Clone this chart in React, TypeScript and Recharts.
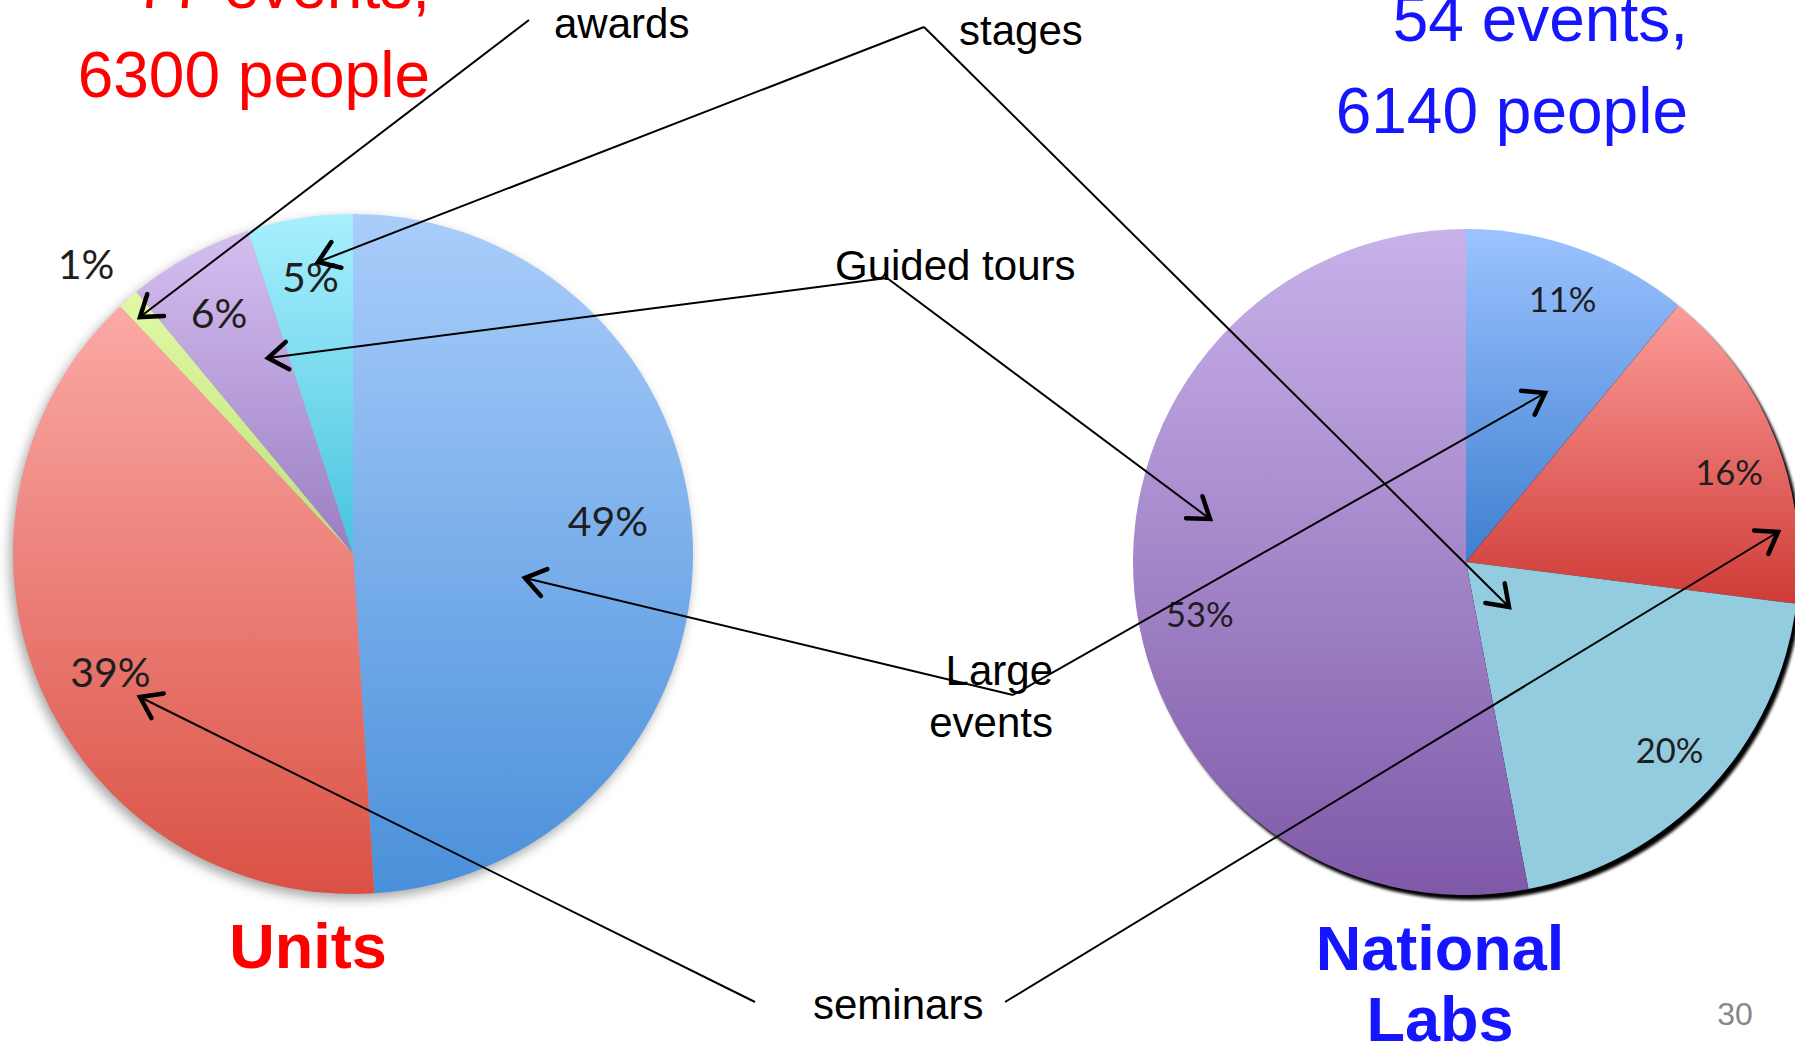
import React from "react";
import { PieChart, Pie, Cell } from "recharts";

// ---------- data ----------
const unitCategories = ["Large events", "seminars", "awards", "Guided tours", "stages"];
const unitValues = [49, 39, 1, 6, 5];
const labCategories = ["Large events", "seminars", "stages", "Guided tours"];
const labValues = [11, 16, 20, 53];

// ---------- styles ----------
const unitGradients = [
  ["#aacdfb", "#4a90da"],
  ["#fba9a6", "#da5144"],
  ["#e2f9a5", "#bfe07a"],
  ["#d5bff0", "#9a7dc2"],
  ["#a8f0fd", "#48c3df"],
];
const labGradients = [
  ["#9cc3ff", "#3e7fd0"],
  ["#fc9c99", "#cf3b37"],
  ["#93cbdf", "#93cbdf"],
  ["#c8b2ea", "#7f59a8"],
];
// small nudges of the percentage labels (px)
const unitLabelNudge: [number, number][] = [[-17, -25], [7, 9], [-6, 5], [-3, -3], [0, -9]];
const labLabelNudge: [number, number][] = [[3, -3], [6, 11], [2, -2], [9, 25]];

const unitData = unitCategories.map((name, i) => ({ name, value: unitValues[i] }));
const labData = labCategories.map((name, i) => ({ name, value: labValues[i] }));
const shadowData = [{ name: "shadow", value: 1 }];

const W = 1795;
const H = 1047;
const RAD = Math.PI / 180;

const makeLabel = (
  fontSize: number,
  insideFactor: number,
  outsideFactor: number,
  nudge: [number, number][]
) =>
  (props: any) => {
    const { cx, cy, midAngle, outerRadius, percent, index } = props;
    const f = percent < 0.02 ? outsideFactor : insideFactor;
    const r = outerRadius * f;
    const n = nudge[index] || [0, 0];
    const x = cx + r * Math.cos(-midAngle * RAD) + n[0];
    const y = cy + r * Math.sin(-midAngle * RAD) + n[1];
    return (
      <text
        x={x}
        y={y}
        textAnchor="middle"
        dominantBaseline="central"
        fontFamily="Lato, 'Open Sans', sans-serif"
        fontSize={fontSize}
        fill="#1e1e1e"
      >
        {`${Math.round(percent * 100)}%`}
      </text>
    );
  };

// ---------- annotations (callouts) ----------
type Pt = [number, number];
const arrows: { from: Pt; to: Pt }[] = [
  { from: [529, 20], to: [140, 317] },
  { from: [924, 27], to: [318, 262] },
  { from: [924, 27], to: [1509, 607] },
  { from: [887, 278], to: [268, 358] },
  { from: [887, 278], to: [1210, 519] },
  { from: [1013, 695], to: [525, 578] },
  { from: [1013, 695], to: [1545, 393] },
  { from: [755, 1002], to: [140, 697] },
  { from: [1005, 1002], to: [1778, 532] },
];

const Arrow = ({ from, to }: { from: Pt; to: Pt }) => {
  const [x1, y1] = from;
  const [x2, y2] = to;
  const ang = Math.atan2(y1 - y2, x1 - x2);
  const L = 24;
  const spread = 35 * RAD;
  const a1: Pt = [x2 + L * Math.cos(ang + spread), y2 + L * Math.sin(ang + spread)];
  const a2: Pt = [x2 + L * Math.cos(ang - spread), y2 + L * Math.sin(ang - spread)];
  return (
    <g>
      <line x1={x1} y1={y1} x2={x2} y2={y2} stroke="#000" strokeWidth={2} />
      <polyline
        points={`${a1[0]},${a1[1]} ${x2},${y2} ${a2[0]},${a2[1]}`}
        fill="none"
        stroke="#000"
        strokeWidth={4.5}
        strokeLinecap="round"
        strokeLinejoin="miter"
      />
    </g>
  );
};

const sans = "'Liberation Sans', Arial, sans-serif";

export default function App() {
  return (
    <div style={{ position: "absolute", left: 0, top: 0, width: W, height: H, background: "#fff", overflow: "hidden" }}>
      <svg width={0} height={0} style={{ position: "absolute" }}>
        <defs>
          {unitGradients.map((g, i) => (
            <linearGradient key={`u${i}`} id={`ug${i}`} x1="0" y1="0" x2="0" y2="1">
              <stop offset="0%" stopColor={g[0]} />
              <stop offset="100%" stopColor={g[1]} />
            </linearGradient>
          ))}
          {labGradients.map((g, i) => (
            <linearGradient key={`l${i}`} id={`lg${i}`} x1="0" y1="0" x2="0" y2="1">
              <stop offset="0%" stopColor={g[0]} />
              <stop offset="100%" stopColor={g[1]} />
            </linearGradient>
          ))}
          <filter id="blurSoft" x="-20%" y="-20%" width="140%" height="140%">
            <feGaussianBlur stdDeviation="6" />
          </filter>
          <filter id="blurHard" x="-20%" y="-20%" width="140%" height="140%">
            <feGaussianBlur stdDeviation="1.5" />
          </filter>
        </defs>
      </svg>
      <PieChart width={W} height={H} margin={{ top: 0, right: 0, bottom: 0, left: 0 }}>
        <Pie
          data={shadowData}
          dataKey="value"
          cx={350}
          cy={559}
          outerRadius={340}
          stroke="none"
          isAnimationActive={false}
        >
          <Cell fill="rgba(0,0,0,0.35)" filter="url(#blurSoft)" />
        </Pie>
        <Pie
          data={unitData}
          dataKey="value"
          nameKey="name"
          cx={353}
          cy={554}
          outerRadius={340}
          startAngle={90}
          endAngle={-270}
          stroke="none"
          isAnimationActive={false}
          labelLine={false}
          label={makeLabel(41, 0.8, 1.16, unitLabelNudge)}
        >
          {unitData.map((_, i) => (
            <Cell key={i} fill={`url(#ug${i})`} />
          ))}
        </Pie>
        <Pie
          data={shadowData}
          dataKey="value"
          cx={1470}
          cy={567}
          outerRadius={333}
          stroke="none"
          isAnimationActive={false}
        >
          <Cell fill="#000" filter="url(#blurHard)" />
        </Pie>
        <Pie
          data={labData}
          dataKey="value"
          nameKey="name"
          cx={1466}
          cy={562}
          outerRadius={333}
          startAngle={90}
          endAngle={-270}
          stroke="none"
          isAnimationActive={false}
          labelLine={false}
          label={makeLabel(34.5, 0.83, 1.1, labLabelNudge)}
        >
          {labData.map((_, i) => (
            <Cell key={i} fill={`url(#lg${i})`} />
          ))}
        </Pie>
      </PieChart>
      <svg width={W} height={H} style={{ position: "absolute", left: 0, top: 0, pointerEvents: "none" }}>
        <g fontFamily={sans}>
          <text x={430} y={8} textAnchor="end" fontSize={64} fill="#ff0000">77 events,</text>
          <text x={430} y={97} textAnchor="end" fontSize={64} fill="#ff0000">6300 people</text>
          <text x={1688} y={41} textAnchor="end" fontSize={64} fill="#1515ff">54 events,</text>
          <text x={1688} y={133} textAnchor="end" fontSize={64} fill="#1515ff">6140 people</text>

          <text x={554} y={38} fontSize={42} fill="#000">awards</text>
          <text x={959} y={45} fontSize={42} fill="#000">stages</text>
          <text x={835} y={280} fontSize={42} fill="#000">Guided tours</text>
          <text x={1053} y={685} textAnchor="end" fontSize={42} fill="#000">Large</text>
          <text x={1053} y={737} textAnchor="end" fontSize={42} fill="#000">events</text>
          <text x={813} y={1019} fontSize={42} fill="#000">seminars</text>

          <text x={308} y={968} textAnchor="middle" fontSize={63} fontWeight="bold" fill="#ff0000">Units</text>
          <text x={1440} y={970} textAnchor="middle" fontSize={63} fontWeight="bold" fill="#1515ff">National</text>
          <text x={1440} y={1041} textAnchor="middle" fontSize={63} fontWeight="bold" fill="#1515ff">Labs</text>

          <text x={1735} y={1025} textAnchor="middle" fontSize={32} fill="#888">30</text>
        </g>
        {arrows.map((a, i) => (
          <Arrow key={i} from={a.from} to={a.to} />
        ))}
      </svg>
    </div>
  );
}
